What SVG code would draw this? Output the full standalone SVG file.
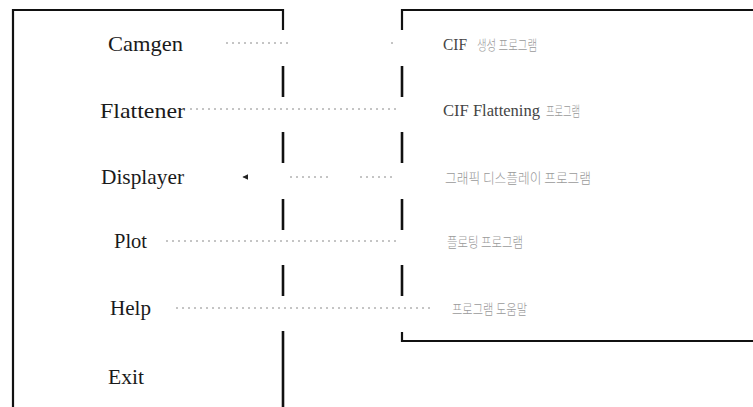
<svg xmlns="http://www.w3.org/2000/svg" width="753" height="407" viewBox="0 0 753 407">
<style>
.frame{fill:none;stroke:#111;stroke-width:2.2;stroke-linecap:butt}
.seg{stroke:#111;stroke-width:2.6}
.menu{font-family:"Liberation Serif","Times New Roman",serif;font-size:21px;fill:#1a1a1a}
.desc{font-family:"Liberation Serif","Times New Roman",serif;font-size:17px;fill:#444}
.kr{font-family:"Noto Sans CJK KR","Noto Sans",sans-serif;font-size:14px;fill:#9a9a9a;font-weight:300}
.dot{fill:none;stroke:#8a8a8a;stroke-width:1;stroke-dasharray:2 4}
</style>
<defs>
<marker id="arr" viewBox="0 0 10 10" refX="1" refY="5" markerWidth="6" markerHeight="6" orient="auto">
<path d="M10,0 L0,5 L10,10 z" fill="#222"/>
</marker>
</defs>
<rect width="753" height="407" fill="#fff"/>
<g id="menu-box">
<path class="frame" d="M13,407 L13,10 L283,10 L283,30"/>
<line class="seg" x1="283" y1="66" x2="283" y2="97"/>
<line class="seg" x1="283" y1="132" x2="283" y2="163"/>
<line class="seg" x1="283" y1="199" x2="283" y2="230"/>
<line class="seg" x1="283" y1="265" x2="283" y2="296"/>
<line class="seg" x1="283" y1="331" x2="283" y2="407"/>
</g>
<g id="desc-box">
<path class="frame" d="M402,30 L402,10 L753,10"/>
<line class="seg" x1="402" y1="66" x2="402" y2="97"/>
<line class="seg" x1="402" y1="132" x2="402" y2="163"/>
<line class="seg" x1="402" y1="199" x2="402" y2="230"/>
<line class="seg" x1="402" y1="265" x2="402" y2="296"/>
<path class="frame" d="M402,332 L402,341 L753,341"/>
</g>
<g id="camgen"><text class="menu" x="108" y="51" textLength="75" lengthAdjust="spacingAndGlyphs">Camgen</text></g>
<g id="flattener"><text class="menu" x="100" y="118" textLength="85" lengthAdjust="spacingAndGlyphs">Flattener</text></g>
<g id="displayer"><text class="menu" x="101" y="184" textLength="83" lengthAdjust="spacingAndGlyphs">Displayer</text></g>
<g id="plot"><text class="menu" x="114" y="248" textLength="33" lengthAdjust="spacingAndGlyphs">Plot</text></g>
<g id="help"><text class="menu" x="110" y="315" textLength="41" lengthAdjust="spacingAndGlyphs">Help</text></g>
<g id="exit"><text class="menu" x="108" y="384" textLength="36" lengthAdjust="spacingAndGlyphs">Exit</text></g>
<g id="desc-camgen">
<text class="desc" x="443" y="50" textLength="24" lengthAdjust="spacingAndGlyphs">CIF</text>
<text class="kr" x="477" y="50" textLength="60" lengthAdjust="spacingAndGlyphs">생성 프로그램</text>
</g>
<g id="desc-flattener">
<text class="desc" x="443" y="116" textLength="97" lengthAdjust="spacingAndGlyphs">CIF Flattening</text>
<text class="kr" x="546" y="116" textLength="34" lengthAdjust="spacingAndGlyphs">프로그램</text>
</g>
<g id="desc-displayer"><text class="kr" x="445" y="183" textLength="146" lengthAdjust="spacingAndGlyphs">그래픽 디스플레이 프로그램</text></g>
<g id="desc-plot"><text class="kr" x="447" y="247" textLength="76" lengthAdjust="spacingAndGlyphs">플로팅 프로그램</text></g>
<g id="desc-help"><text class="kr" x="452" y="314" textLength="75" lengthAdjust="spacingAndGlyphs">프로그램 도움말</text></g>
<g id="connectors">
<line class="dot" x1="226" y1="43" x2="292" y2="43"/>
<line class="dot" x1="391" y1="43" x2="396" y2="43"/>
<line class="dot" x1="190" y1="109" x2="400" y2="109"/>
<line class="dot" x1="290" y1="177" x2="330" y2="177"/>
<line class="dot" x1="360" y1="177" x2="396" y2="177"/>
<line class="dot" x1="243" y1="177" x2="246" y2="177" marker-start="url(#arr)"/>
<line class="dot" x1="166" y1="241" x2="396" y2="241"/>
<line class="dot" x1="176" y1="308" x2="434" y2="308"/>
</g>
</svg>
